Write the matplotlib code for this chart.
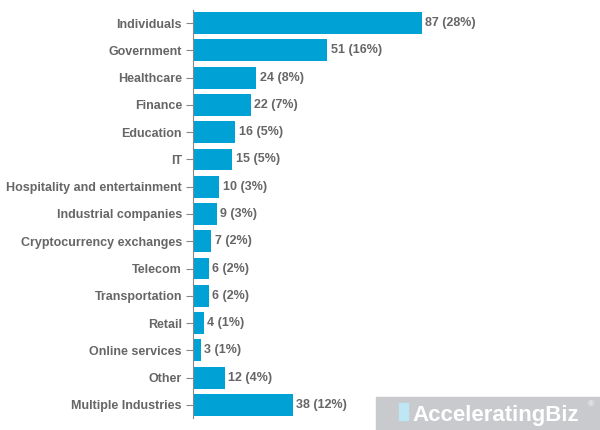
import matplotlib.pyplot as plt
import matplotlib.patches as mpatches

plt.rcParams['font.family'] = ['Liberation Sans', 'DejaVu Sans']

categories = ['Individuals', 'Government', 'Healthcare', 'Finance', 'Education', 'IT',
              'Hospitality and entertainment', 'Industrial companies',
              'Cryptocurrency exchanges', 'Telecom', 'Transportation', 'Retail',
              'Online services', 'Other', 'Multiple Industries']
counts = [87, 51, 24, 22, 16, 15, 10, 9, 7, 6, 6, 4, 3, 12, 38]
shares = [28, 16, 8, 7, 5, 5, 3, 3, 2, 2, 2, 1, 1, 4, 12]

fig = plt.figure(figsize=(6, 4.3), dpi=100)
ax = fig.add_axes([193/600, 12/430, 407/600, 408/430])

y = list(range(len(categories)))
ax.barh(y, counts, height=0.8, color='#00a2d6')
for i, (c, s) in enumerate(zip(counts, shares)):
    ax.text(c + 1.3, i, f'{c} ({s}%)', va='center', ha='left',
            fontsize=9, fontweight='bold', color='#666666')

ax.set_xlim(0, 154.7)
ax.set_ylim(14.48, -0.48)
ax.set_yticks(y)
ax.set_yticklabels(categories, fontsize=9, fontweight='bold', color='#666666')
ax.tick_params(axis='y', length=5, color='#888888', pad=3)
ax.set_xticks([])
for side in ['top', 'right', 'bottom']:
    ax.spines[side].set_visible(False)
ax.spines['left'].set_color('#888888')

# watermark
fig.patches.append(mpatches.Rectangle((376/600, 0), 224/600, 33/430,
                                      transform=fig.transFigure, color='#c8cacd', zorder=5))
fig.patches.append(mpatches.Rectangle((399/600, 10/430), 9/600, 17/430,
                                      transform=fig.transFigure, color='#bfe6f5', zorder=6))
fig.text(412/600, 15/430, 'AcceleratingBiz', fontsize=16, fontweight='bold',
         color='white', va='center', ha='left', zorder=7)
fig.text(588/600, 25/430, '®', fontsize=6, color='white', va='center', zorder=7)

fig.savefig('out.png')
